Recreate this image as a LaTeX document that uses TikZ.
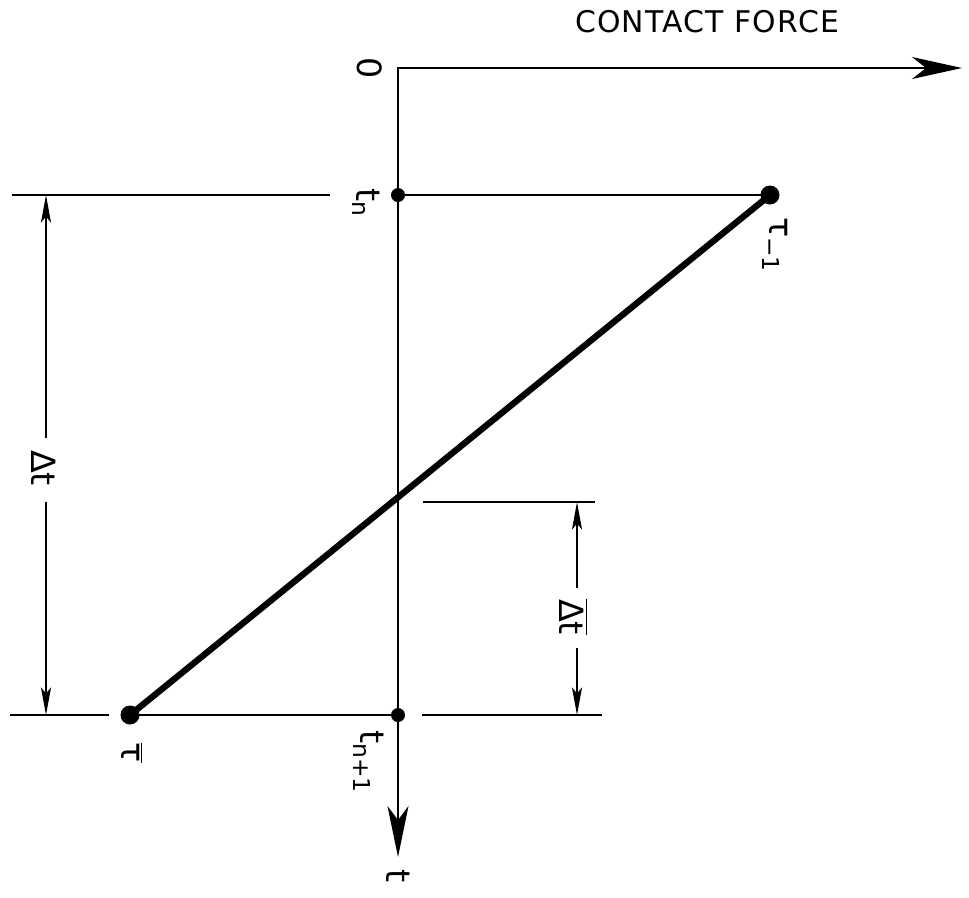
\documentclass[tikz,border=0pt]{standalone}
\usepackage{fontspec}
\setmainfont{DejaVu Sans}
\usetikzlibrary{arrows.meta}
\begin{document}
\begin{tikzpicture}[x=0.02cm,y=-0.02cm,
  thinline/.style={line width=1.3pt},
  thickline/.style={line width=3.6pt},
  axisarrow/.style={thinline,{Stealth[length=1.02cm,width=0.42cm,inset=0.28cm]}-{Stealth[length=1.0cm,width=0.44cm,inset=0.28cm]}},
  dimarrow/.style={thinline,-{Stealth[length=0.55cm,width=0.2cm,inset=0.12cm]}},
  lbl/.style={inner sep=0pt,font=\fontsize{19}{22}\selectfont},
  rlbl/.style={lbl,rotate=-90}
]
\useasboundingbox (0,0) rectangle (969,897);
% key points
\coordinate (O) at (398,68);
\coordinate (xend) at (962,68);
\coordinate (yend) at (398,857);
\coordinate (tn) at (398,195);
\coordinate (tn1) at (398,715);
\coordinate (A) at (770,195);
\coordinate (B) at (130,715);
% extension line ends
\coordinate (e1a) at (12,195);
\coordinate (e1b) at (330,195);
\coordinate (e2a) at (10,715);
\coordinate (e2b) at (109,715);
\coordinate (e3a) at (422,715);
\coordinate (e3b) at (602,715);
\coordinate (e4a) at (423,502);
\coordinate (e4b) at (595,502);
% dimension line points
\coordinate (d1top) at (46,195);
\coordinate (d1g1) at (46,438);
\coordinate (d1g2) at (46,502);
\coordinate (d1bot) at (46,715);
\coordinate (d2top) at (577,502);
\coordinate (d2g1) at (577,588);
\coordinate (d2g2) at (577,648);
\coordinate (d2bot) at (577,715);

% axes
\draw[axisarrow] (yend) -- (O) -- (xend);
% horizontal lines
\draw[thinline] (e1a) -- (e1b);
\draw[thinline] (tn) -- (A);
\draw[thinline] (e2a) -- (e2b);
\draw[thinline] (B) -- (tn1);
\draw[thinline] (e3a) -- (e3b);
\draw[thinline] (e4a) -- (e4b);
% thick line
\draw[thickline] (B) -- (A);
% dots
\fill (A) circle[radius=0.19cm];
\fill (B) circle[radius=0.19cm];
\fill (tn) circle[radius=0.14cm];
\fill (tn1) circle[radius=0.14cm];
% dimension lines
\draw[dimarrow] (d1g1) -- (d1top);
\draw[dimarrow] (d1g2) -- (d1bot);
\draw[dimarrow] (d2g1) -- (d2top);
\draw[dimarrow] (d2g2) -- (d2bot);

% labels
\node[inner sep=0pt,font=\fontsize{17}{20}\selectfont\addfontfeature{LetterSpace=4}] (title) at (707,22) {CONTACT FORCE};
\node[rlbl] (zero) at (370,68) {0};
\node[rlbl] (ltn) at (366,203) {t\textsubscript{n}};
\node[rlbl] (ltn1) at (369,762) {t\textsubscript{n+1}};
\node[rlbl] (lt) at (398,876) {t};
\node[rlbl] (ltau1) at (775,245) {τ\textsubscript{−1}};
\node[rlbl] (ltaub) at (132,753) {$\overline{\hbox{τ}}$};
\node[rlbl] (ldt) at (44,468) {Δt};
\node[rlbl] (ldtb) at (573,617) {$\overline{\hbox{Δt}}$};
\end{tikzpicture}
\end{document}
